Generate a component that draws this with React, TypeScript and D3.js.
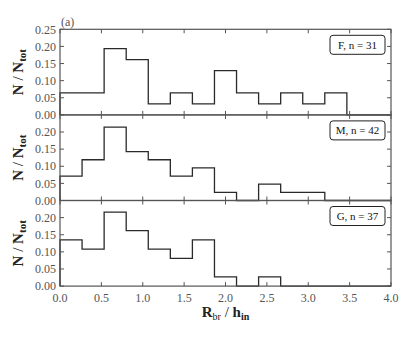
import React from 'react';
import * as d3 from 'd3';

// 15 bins of width 4/15 from 0 to 4 (R_br / h_in)
const binEdges = [0, 0.2667, 0.5333, 0.8, 1.0667, 1.3333, 1.6, 1.8667, 2.1333, 2.4, 2.6667, 2.9333, 3.2, 3.4667, 3.7333, 4.0];

const countsF = [2, 2, 6, 5, 1, 2, 1, 4, 2, 1, 2, 1, 2, 0, 0];
const countsM = [3, 5, 9, 6, 5, 3, 4, 1, 0, 2, 1, 1, 0, 0, 0];
const countsG = [5, 4, 8, 6, 4, 3, 5, 1, 0, 1, 0, 0, 0, 0, 0];

const panels = [
  { name: 'F', n: 31, counts: countsF, yTicks: [0, 0.05, 0.1, 0.15, 0.2, 0.25] },
  { name: 'M', n: 42, counts: countsM, yTicks: [0, 0.05, 0.1, 0.15, 0.2] },
  { name: 'G', n: 37, counts: countsG, yTicks: [0, 0.05, 0.1, 0.15, 0.2] },
];

const xTicks = [0, 0.5, 1, 1.5, 2, 2.5, 3, 3.5, 4];

const serif = '"Liberation Serif", "DejaVu Serif", serif';

export default function App() {
  let width = 415
    , height = 337
    , left = 60
    , right = 391
    , top = 29.3
    , ph = 85.6;

  let x = d3.scaleLinear().domain([0, 4]).range([left, right]);

  let spine = '#555';
  let tickLen = 4;

  return (
    <svg width={width} height={height} style={{ position: 'absolute', left: 0, top: 0 }}>
      <rect width={width} height={height} fill="#fff" />
      {panels.map((p, i) => {
        let y0 = top + i * ph;
        let y = d3.scaleLinear().domain([0, 0.25]).range([y0 + ph, y0]);
        let pts: [number, number][] = [[0, 0]];
        p.counts.forEach((c, k) => {
          pts.push([binEdges[k], c / p.n]);
        });
        pts.push([binEdges[binEdges.length - 1], 0]);
        let line = d3.line<[number, number]>()
          .x(d => x(d[0]))
          .y(d => y(d[1]))
          .curve(d3.curveStepAfter);
        let midY = y0 + ph / 2;
        return (
          <g key={p.name}>
            <path d={line(pts) || ''} fill="none" stroke="#2a2a2a" strokeWidth={1.3} />
            {/* frame */}
            <rect x={left} y={y0} width={right - left} height={ph} fill="none" stroke={spine} strokeWidth={1.2} />
            {/* x ticks top and bottom, inward */}
            {xTicks.map(t => (
              <g key={'xt' + t}>
                <line x1={x(t)} x2={x(t)} y1={y0 + ph} y2={y0 + ph - tickLen} stroke={spine} strokeWidth={1} />
                <line x1={x(t)} x2={x(t)} y1={y0} y2={y0 + tickLen} stroke={spine} strokeWidth={1} />
              </g>
            ))}
            {/* y ticks left and right, inward */}
            {p.yTicks.map(t => (
              <g key={'yt' + t}>
                <line x1={left} x2={left + tickLen} y1={y(t)} y2={y(t)} stroke={spine} strokeWidth={1} />
                <line x1={right} x2={right - tickLen} y1={y(t)} y2={y(t)} stroke={spine} strokeWidth={1} />
                <text x={left - 4} y={y(t)} dy="0.35em" textAnchor="end" fontFamily={serif} fontSize={12} fill="#555">
                  {t.toFixed(2)}
                </text>
              </g>
            ))}
            {/* legend box */}
            <rect x={330} y={y0 + 6} width={55} height={19} rx={3} fill="#fff" stroke="#222" strokeWidth={1} />
            <text x={357.5} y={y0 + 15.5} dy="0.35em" textAnchor="middle" fontFamily={serif} fontSize={11} fill="#111">
              {p.name + ', n = ' + p.n}
            </text>
            {/* y label */}
            <text transform={'translate(23,' + midY + ') rotate(-90)'} textAnchor="middle" fontFamily={serif} fontSize={15} fontWeight="bold" fill="#222">
              N<tspan fontWeight="normal"> / </tspan>N<tspan fontSize={11} dy="3">tot</tspan>
            </text>
          </g>
        );
      })}
      {xTicks.map(t => (
        <text key={'xl' + t} x={x(t)} y={top + 3 * ph + 12} dy="0.35em" textAnchor="middle" fontFamily={serif} fontSize={12} fill="#555">
          {t.toFixed(1)}
        </text>
      ))}
      <text x={(left + right) / 2} y={317} textAnchor="middle" fontFamily={serif} fontSize={15} fontWeight="bold" fill="#222">
        R<tspan fontSize={10} dy="3" fontWeight="normal">br</tspan><tspan dy="-3" fontWeight="normal"> / </tspan>h<tspan fontSize={10} dy="3">in</tspan>
      </text>
      <text x={61} y={26} fontFamily={serif} fontSize={12} fill="#555">(a)</text>
    </svg>
  );
}
